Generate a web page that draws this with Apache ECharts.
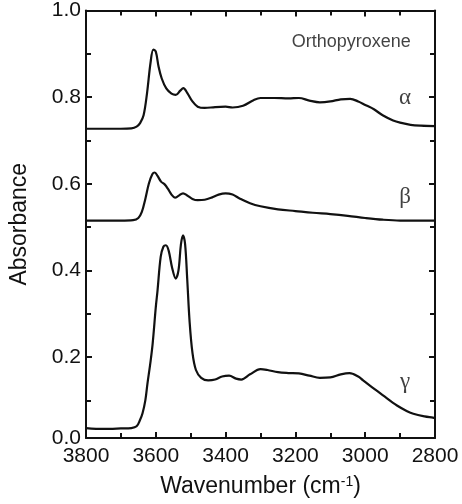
<!DOCTYPE html>
<html>
<head>
<meta charset="utf-8">
<script src="https://cdn.jsdelivr.net/npm/echarts@6/dist/echarts.min.js"></script>
<style>
html,body{margin:0;padding:0;background:#fff;}
#c{width:462px;height:504px;}
</style>
</head>
<body>
<div id="c"></div>
<script>
// Wavenumber (cm-1) and absorbance
const alphaWn  = [3800,3700,3670,3655,3645,3635,3625,3615,3607,3600,3592,3583,3570,3555,3543,3530,3521,3510,3495,3480,3460,3430,3400,3380,3350,3320,3300,3260,3220,3190,3160,3130,3100,3070,3043,3020,3000,2975,2950,2920,2900,2870,2840,2800];
const alphaAbs = [0.727,0.727,0.728,0.732,0.740,0.758,0.810,0.880,0.910,0.905,0.870,0.843,0.820,0.808,0.805,0.815,0.821,0.810,0.790,0.778,0.775,0.777,0.778,0.776,0.780,0.793,0.798,0.798,0.797,0.798,0.792,0.788,0.790,0.795,0.796,0.790,0.782,0.772,0.758,0.746,0.741,0.736,0.734,0.733];

const betaWn  = [3800,3700,3665,3650,3640,3630,3620,3610,3603,3595,3585,3574,3565,3555,3545,3535,3522,3510,3495,3480,3460,3440,3420,3400,3380,3360,3330,3300,3250,3200,3150,3100,3050,3000,2950,2900,2850,2800];
const betaAbs = [0.515,0.515,0.516,0.521,0.535,0.565,0.600,0.622,0.626,0.618,0.605,0.598,0.588,0.575,0.568,0.572,0.578,0.573,0.565,0.562,0.563,0.568,0.575,0.578,0.575,0.566,0.555,0.548,0.541,0.537,0.533,0.530,0.526,0.521,0.517,0.515,0.515,0.515];

const gammaWn  = [3800,3750,3700,3670,3655,3645,3638,3630,3624,3615,3609,3600,3595,3586,3578,3571,3563,3553,3543,3535,3528,3522,3516,3510,3503,3495,3485,3470,3450,3430,3410,3390,3370,3355,3330,3300,3280,3250,3220,3190,3160,3130,3100,3070,3045,3020,3006,2980,2950,2909,2880,2862,2830,2806,2800];
const gammaAbs = [0.036,0.034,0.035,0.036,0.040,0.055,0.070,0.100,0.138,0.190,0.231,0.315,0.354,0.431,0.455,0.458,0.445,0.405,0.381,0.400,0.460,0.481,0.460,0.380,0.280,0.210,0.170,0.152,0.146,0.148,0.155,0.157,0.150,0.148,0.160,0.172,0.170,0.165,0.163,0.162,0.157,0.152,0.153,0.160,0.163,0.155,0.146,0.130,0.112,0.088,0.075,0.069,0.063,0.060,0.059];

// Text annotations (wavenumber, absorbance, text)
const noteWn   = [3040, 2886, 2886, 2886];
const noteAbs  = [0.927, 0.797, 0.569, 0.143];
const noteText = ['Orthopyroxene', 'α', 'β', 'γ'];

// Axis settings (the drawn x axis sits slightly above zero absorbance)
const xMin = 2800, xMax = 3800, xStep = 200;
const yMin = 0.013, yMax = 1.0, ySplits = 5;

const pairs = (xs, ys) => xs.map((x, i) => [x, ys[i]]);

const chart = echarts.init(document.getElementById('c'), null, {renderer: 'canvas'});
const ink = '#111';
const font = 'Liberation Sans, Arial, Helvetica, sans-serif';
const axisCommon = {
  axisLine: {show: true, lineStyle: {color: ink, width: 2}},
  axisTick: {show: true, inside: true, length: 6, lineStyle: {color: ink, width: 2}},
  minorTick: {show: true, splitNumber: 2, length: 5, lineStyle: {color: ink, width: 2}},
  splitLine: {show: false}
};

const lineSeries = (name, xs, ys) => ({
  name, type: 'line', data: pairs(xs, ys), showSymbol: false, symbol: 'none',
  smooth: 0.35, lineStyle: {color: ink, width: 2.2}, silent: true, animation: false,
  xAxisIndex: 0, yAxisIndex: 0
});

chart.setOption({
  animation: false,
  backgroundColor: '#fff',
  grid: {left: 85, right: 27, top: 10, bottom: 66, containLabel: false},
  xAxis: [
    Object.assign({}, axisCommon, {
      type: 'value', position: 'bottom', inverse: true, min: xMin, max: xMax, interval: xStep,
      axisLabel: {color: ink, fontSize: 21, fontFamily: font, margin: 8, formatter: v => String(v)},
      name: 'Wavenumber (cm{sup|-1})', nameLocation: 'middle', nameGap: 37,
      nameTextStyle: {color: ink, fontSize: 23, fontFamily: font,
        rich: {sup: {fontSize: 14, fontFamily: font, color: ink, verticalAlign: 'top', padding: [0, 0, 10, 0]}}}
    }),
    Object.assign({}, axisCommon, {
      type: 'value', position: 'top', inverse: true, min: xMin, max: xMax, interval: xStep,
      axisLabel: {show: false}
    })
  ],
  yAxis: [
    Object.assign({}, axisCommon, {
      type: 'value', position: 'left', min: yMin, max: yMax, splitNumber: ySplits,
      axisLabel: {color: ink, fontSize: 21, fontFamily: font, margin: 5,
        formatter: v => (v < 0.05 ? '0.0' : v.toFixed(1))},
      name: 'Absorbance', nameLocation: 'middle', nameGap: 55,
      nameTextStyle: {color: ink, fontSize: 23, fontFamily: font}
    }),
    Object.assign({}, axisCommon, {
      type: 'value', position: 'right', min: yMin, max: yMax, splitNumber: ySplits,
      axisLabel: {show: false}
    })
  ],
  series: [
    lineSeries('α', alphaWn, alphaAbs),
    lineSeries('β', betaWn, betaAbs),
    lineSeries('γ', gammaWn, gammaAbs),
    {
      type: 'scatter', symbolSize: 0, silent: true, animation: false,
      data: noteWn.map((x, i) => ({value: [x, noteAbs[i]], label: {
        show: true, position: 'inside', formatter: noteText[i], color: ink,
        fontSize: i === 0 ? 18 : 23,
        fontFamily: i === 0 ? font : 'Liberation Serif, DejaVu Serif, serif'
      }}))
    }
  ]
});
</script>
</body>
</html>
